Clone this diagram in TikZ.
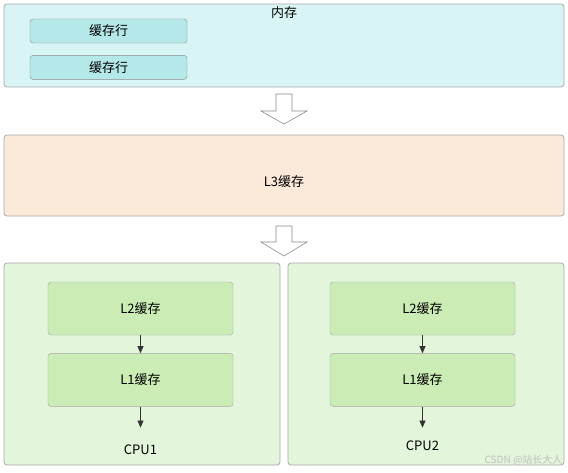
\documentclass[tikz,border=0pt]{standalone}
\usepackage{fontspec}
\setmainfont{Noto Sans CJK SC}
\usetikzlibrary{arrows.meta,positioning}

\definecolor{memfill}{HTML}{D9F4F4}
\definecolor{linefill}{HTML}{B5E9E9}
\definecolor{lthreefill}{HTML}{FBE9DA}
\definecolor{cpufill}{HTML}{E3F5DB}
\definecolor{levelfill}{HTML}{CBECB5}
\definecolor{edgegray}{HTML}{A9A9A9}

\begin{document}
\begin{tikzpicture}[x=1pt,y=-1pt,font=\fontsize{13}{15}\selectfont,
    outer/.style={draw=edgegray, rounded corners=3pt, line width=0.8pt},
    cacheline/.style={draw=gray!90, fill=linefill, rounded corners=3pt, minimum width=157pt, minimum height=24pt, inner sep=0pt},
    level/.style={draw=gray!70, fill=levelfill, rounded corners=3pt, minimum width=185pt, minimum height=53pt, inner sep=0pt},
    bigarrow/.style={draw=gray!90, fill=white, line width=0.6pt},
    flow/.style={-{Triangle[length=7pt,width=6pt]}, draw=gray!40!black, line width=0.6pt}
    ]
    \useasboundingbox (0,0) rectangle (568,472);

    % main memory
    \node[outer, fill=memfill, minimum width=560pt, minimum height=83pt, inner sep=0pt] (mem) at (284,45.5) {};
    \node (mem_t) at (284,13) {内存};
    \node[cacheline] (line_1) at (108.5,31) {缓存行};
    \node[cacheline] (line_2) [below=12pt of line_1] {缓存行};

    \draw[bigarrow] (276,94) -- (292,94) -- (292,111) -- (307,111) -- (284,124)
        -- (261,111) -- (276,111) -- cycle;

    % shared L3
    \node[outer, fill=lthreefill, minimum width=560pt, minimum height=81pt, inner sep=0pt] (l_3) at (284,175.5) {};
    \node (l_3t) at (284,182) {L3缓存};

    \draw[bigarrow] (276,226) -- (292,226) -- (292,242) -- (307,242) -- (284,256)
        -- (261,242) -- (276,242) -- cycle;

    % cores
    \node[outer, fill=cpufill, minimum width=276pt, minimum height=202pt, inner sep=0pt] (cpu_a) at (142,364) {};
    \node[outer, fill=cpufill, minimum width=276pt, minimum height=202pt, inner sep=0pt] (cpu_b) at (426,364) {};

    \node[level] (l2_a) at (140.5,308.5) {L2缓存};
    \node[level] (l1_a) [below=18pt of l2_a] {L1缓存};
    \node (cpu_at) at (140.5,450) {CPU1};

    \node[level] (l2_b) at (422.5,308.5) {L2缓存};
    \node[level] (l1_b) [below=18pt of l2_b] {L1缓存};
    \node (cpu_bt) at (422.5,446) {CPU2};

    \draw[flow] (l2_a.south) -- (l1_a.north);
    \draw[flow] (l1_a.south) -- ++(0,21);
    \draw[flow] (l2_b.south) -- (l1_b.north);
    \draw[flow] (l1_b.south) -- ++(0,21);

    \node[text=gray!50, font=\fontsize{10}{12}\selectfont, anchor=east] (mark) at (566,460) {CSDN @站长大人};
\end{tikzpicture}
\end{document}
